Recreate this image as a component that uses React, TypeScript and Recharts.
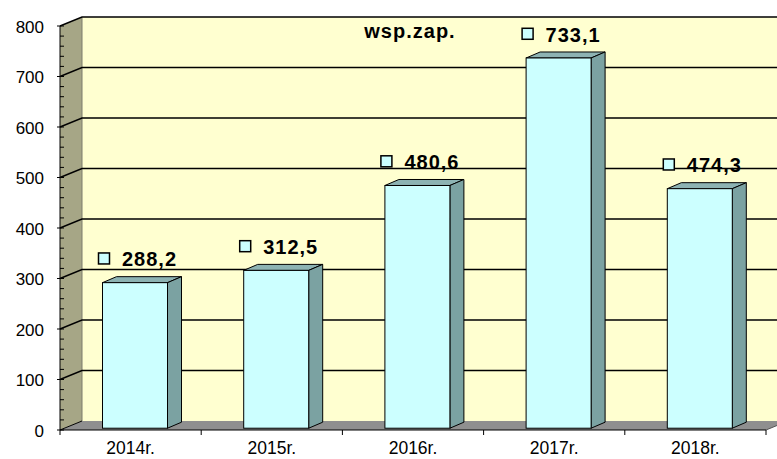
import React from 'react';
import { BarChart, Bar, XAxis, YAxis, ReferenceArea, ReferenceLine, LabelList } from 'recharts';

if (typeof document !== 'undefined') document.body.style.margin = '0';

const categories = ['2014r.', '2015r.', '2016r.', '2017r.', '2018r.'];
const values = [288.2, 312.5, 480.6, 733.1, 474.3];
const seriesName = 'wsp.zap.';
const gridValues = [100, 200, 300, 400, 500, 600, 700, 800];
const yTicks = [
  0, 20, 40, 60, 80, 100, 120, 140, 160, 180, 200, 220, 240, 260, 280, 300, 320, 340, 360, 380, 400,
  420, 440, 460, 480, 500, 520, 540, 560, 580, 600, 620, 640, 660, 680, 700, 720, 740, 760, 780, 800,
];

const data = categories.map((name, i) => ({ name, value: values[i] }));

const FONT = '"Liberation Sans", Arial, sans-serif';
// wall depth and bar depth (3d look)
const DX = 22;
const DY = 9;
const BX = 14;
const BY = 6;

const Walls = (props: any) => {
  const { x, y, width, height } = props;
  const b = y + height;
  const step = width / categories.length;
  return (
    <g>
      <rect x={x + DX} y={y - DY} width={width} height={height} fill="#FFFFD0" />
      <polygon points={`${x},${y} ${x + DX},${y - DY} ${x + DX},${b - DY} ${x},${b}`} fill="#A6A686" />
      <polygon points={`${x},${b} ${x + DX},${b - DY} ${x + width + DX},${b - DY} ${x + width},${b}`} fill="#8F8F8F" />
      <line x1={x + DX} y1={y - DY} x2={x + DX} y2={b - DY} stroke="#7c7c6c" />
      <line x1={x} y1={b} x2={x + DX} y2={b - DY} stroke="#000" />
      <line x1={x + width} y1={b} x2={x + width + DX} y2={b - DY} stroke="#555" />
      {categories.map((c, i) => (
        <line key={c} x1={x + i * step} y1={b} x2={x + i * step} y2={b + 5} stroke="#000" />
      ))}
      <line x1={x + width} y1={b} x2={x + width} y2={b + 5} stroke="#000" />
      <text x={x + 350} y={y + 12} textAnchor="middle" fontFamily={FONT} fontWeight="bold" fontSize={20} letterSpacing={1} fill="#000">
        {seriesName}
      </text>
    </g>
  );
};

const GridLine = (props: any) => {
  const x1 = Math.min(props.x1, props.x2);
  const x2 = Math.max(props.x1, props.x2);
  const y = props.y1;
  return (
    <path d={`M${x1},${y} L${x1 + DX},${y - DY} L${x2 + DX},${y - DY}`} stroke="#000" strokeWidth={1.4} fill="none" />
  );
};

const Bar3D = (props: any) => {
  const { x, y, width, height } = props;
  const fx = x + 4.5;
  const fy = y - 1.8;
  const r = fx + width;
  const bot = fy + height;
  return (
    <g>
      <polygon points={`${fx},${fy} ${fx + BX},${fy - BY} ${r + BX},${fy - BY} ${r},${fy}`} fill="#8DB3B3" stroke="#000" />
      <polygon points={`${r},${fy} ${r + BX},${fy - BY} ${r + BX},${bot - BY} ${r},${bot}`} fill="#7BA2A2" stroke="#000" />
      <rect x={fx} y={fy} width={width} height={height} fill="#CCFFFF" stroke="#000" />
    </g>
  );
};

const ValueLabel = (props: any) => {
  const vb = props.viewBox || props;
  const { x, y } = vb;
  const text = Number(props.value).toFixed(1).replace('.', ',');
  return (
    <g>
      <rect x={x + 0.5} y={y - 31.5} width={11} height={11} fill="#CCFFFF" stroke="#000" strokeWidth={1.5} />
      <text x={x + 24} y={y - 18} fontFamily={FONT} fontWeight="bold" fontSize={20} letterSpacing={1} fill="#000">
        {text}
      </text>
    </g>
  );
};

const YTick = (props: any) => {
  const { x, y, payload } = props;
  const v = payload.value;
  if (v % 100 === 0) {
    return (
      <g>
        <line x1={x - 3} y1={y} x2={x + 4} y2={y} stroke="#000" />
        <text x={x - 16} y={y + 6.5} textAnchor="end" fontFamily={FONT} fontSize={17} fill="#000">
          {v}
        </text>
      </g>
    );
  }
  return <line x1={x} y1={y} x2={x + 4} y2={y} stroke="#000" />;
};

const XTick = (props: any) => {
  const { x, y, payload } = props;
  return (
    <text x={x} y={y + 24} textAnchor="middle" fontFamily={FONT} fontSize={17.5} fill="#000">
      {payload.value}
    </text>
  );
};

export default function App() {
  return (
    <div style={{ width: 777, height: 459, background: '#fff' }}>
      <BarChart width={777} height={459} data={data} margin={{ top: 26, right: 11, bottom: 0, left: 0 }} barSize={65}>
        <ReferenceArea y1={0} y2={800} ifOverflow="visible" shape={Walls} zIndex={-300} />
        {gridValues.map((v) => (
          <ReferenceLine key={v} y={v} ifOverflow="visible" shape={GridLine} zIndex={-200} />
        ))}
        <XAxis dataKey="name" height={29} tickSize={0} tickMargin={0} tickLine={false} axisLine={{ stroke: '#000' }} tick={XTick} interval={0} />
        <YAxis
          width={60}
          domain={[0, 800]}
          ticks={yTicks}
          interval={0}
          tickSize={0}
          tickMargin={0}
          tickLine={false}
          axisLine={{ stroke: '#000' }}
          tick={YTick}
        />
        <Bar dataKey="value" shape={Bar3D} isAnimationActive={false}>
          <LabelList dataKey="value" content={ValueLabel} />
        </Bar>
      </BarChart>
    </div>
  );
}
